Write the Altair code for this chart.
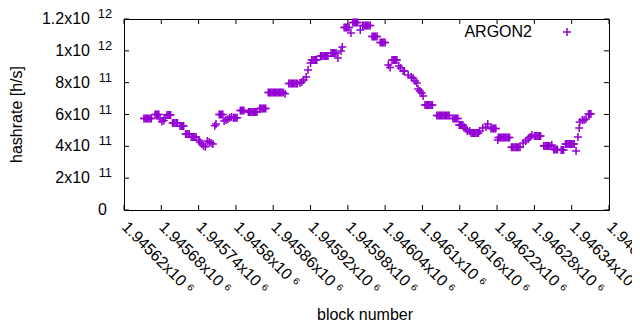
import altair as alt
import pandas as pd

# ---- data ----
blocks = [
    1945652, 1945654, 1945656, 1945658, 1945660, 1945662, 1945664,
    1945670, 1945672, 1945674, 1945676,
    1945678, 1945681, 1945684, 1945686,
    1945689, 1945691, 1945693, 1945695,
    1945698, 1945700, 1945702, 1945704, 1945706,
    1945710, 1945712, 1945714, 1945716,
    1945719, 1945721, 1945723, 1945725,
    1945728, 1945730, 1945732, 1945734, 1945736,
    1945740, 1945742, 1945745, 1945748, 1945751,
    1945754, 1945757, 1945760, 1945763,
    1945766, 1945768,
    1945773, 1945775, 1945777, 1945779,
    1945781, 1945784, 1945787, 1945790, 1945793,
    1945796, 1945798, 1945800, 1945802,
    1945807, 1945809, 1945811, 1945813,
    1945820, 1945822, 1945824, 1945826, 1945828, 1945830, 1945832, 1945834,
    1945838, 1945840, 1945842, 1945844, 1945846, 1945848,
    1945852, 1945854, 1945856, 1945858, 1945860, 1945862, 1945864, 1945866, 1945868, 1945870, 1945872, 1945874, 1945876, 1945879,
    1945885, 1945887, 1945889, 1945891, 1945893, 1945895, 1945897, 1945899,
    1945903, 1945906, 1945909, 1945913, 1945916,
    1945920, 1945922, 1945924, 1945926, 1945928, 1945930,
    1945936, 1945938, 1945940, 1945942, 1945944, 1945946, 1945948,
    1945953, 1945955, 1945957, 1945959, 1945961,
    1945964, 1945969, 1945971,
    1945974, 1945976, 1945978, 1945980, 1945982,
    1945985,
    1945988, 1945990, 1945992, 1945994, 1945996,
    1946000,
    1946004, 1946006, 1946008, 1946010, 1946012, 1946014, 1946016,
    1946019, 1946021, 1946023, 1946025, 1946027,
    1946032, 1946034, 1946036, 1946038, 1946040,
    1946045, 1946048,
    1946051, 1946053, 1946055, 1946057, 1946059,
    1946062, 1946065,
    1946069, 1946071,
    1946077, 1946082, 1946085, 1946088, 1946091, 1946093, 1946096, 1946099, 1946101,
    1946104, 1946106, 1946108, 1946110, 1946112, 1946114, 1946116,
    1946123, 1946125, 1946127, 1946129, 1946131, 1946133, 1946135, 1946137, 1946139, 1946141, 1946143,
    1946149, 1946151, 1946153, 1946155, 1946157,
    1946159, 1946161, 1946163, 1946165,
    1946167, 1946170, 1946172, 1946176,
    1946178, 1946180, 1946182, 1946184, 1946186, 1946188, 1946190,
    1946192, 1946197, 1946202, 1946205,
    1946210, 1946212, 1946214, 1946216, 1946218,
    1946221,
    1946222, 1946224, 1946226, 1946228, 1946230, 1946232, 1946234, 1946236, 1946238, 1946240,
    1946243, 1946245, 1946247, 1946249, 1946251, 1946253, 1946255, 1946257,
    1946262, 1946266, 1946270, 1946273, 1946276,
    1946280, 1946282, 1946284, 1946286, 1946288, 1946290,
    1946295, 1946297, 1946299, 1946301, 1946303, 1946305,
    1946308,
    1946311, 1946313, 1946315, 1946317,
    1946323, 1946325, 1946327,
    1946330, 1946332, 1946334, 1946336, 1946338, 1946340, 1946342, 1946344,
    1946347, 1946350, 1946352, 1946353, 1946357, 1946360, 1946363,
    1946367, 1946369, 1946371,
]

hashrate = [
    5.75e11, 5.75e11, 5.75e11, 5.75e11, 5.75e11, 5.75e11, 5.75e11,
    6.00e11, 6.00e11, 6.00e11, 6.00e11,
    5.72e11, 5.56e11, 5.62e11, 5.80e11,
    5.97e11, 5.97e11, 5.97e11, 5.97e11,
    5.47e11, 5.47e11, 5.47e11, 5.47e11, 5.47e11,
    5.28e11, 5.28e11, 5.28e11, 5.28e11,
    4.77e11, 4.77e11, 4.77e11, 4.77e11,
    4.59e11, 4.59e11, 4.59e11, 4.59e11, 4.59e11,
    4.40e11, 4.27e11, 4.15e11, 4.02e11, 3.98e11,
    4.34e11, 4.27e11, 4.21e11, 4.15e11,
    5.30e11, 5.40e11,
    6.00e11, 6.00e11, 6.00e11, 6.00e11,
    5.59e11, 5.65e11, 5.70e11, 5.80e11, 5.84e11,
    5.80e11, 5.80e11, 5.80e11, 5.80e11,
    6.25e11, 6.25e11, 6.25e11, 6.25e11,
    6.16e11, 6.16e11, 6.16e11, 6.16e11, 6.16e11, 6.16e11, 6.16e11, 6.16e11,
    6.38e11, 6.38e11, 6.38e11, 6.38e11, 6.38e11, 6.38e11,
    7.38e11, 7.38e11, 7.38e11, 7.38e11, 7.38e11, 7.38e11, 7.38e11, 7.38e11, 7.38e11, 7.38e11, 7.38e11, 7.38e11, 7.38e11, 7.30e11,
    7.95e11, 7.95e11, 7.95e11, 7.95e11, 7.95e11, 7.95e11, 7.95e11, 7.95e11,
    7.98e11, 8.04e11, 8.17e11, 8.36e11, 8.80e11,
    9.24e11, 9.42e11, 9.42e11, 9.42e11, 9.42e11, 9.42e11,
    9.68e11, 9.68e11, 9.68e11, 9.68e11, 9.68e11, 9.68e11, 9.68e11,
    9.86e11, 9.86e11, 9.86e11, 9.86e11, 9.86e11,
    9.55e11, 9.99e11, 10.24e11,
    11.47e11, 11.47e11, 11.47e11, 11.47e11, 11.47e11,
    11.12e11,
    11.78e11, 11.78e11, 11.78e11, 11.78e11, 11.78e11,
    11.31e11,
    11.59e11, 11.59e11, 11.59e11, 11.59e11, 11.59e11, 11.59e11, 11.59e11,
    10.90e11, 10.90e11, 10.90e11, 10.90e11, 10.90e11,
    10.52e11, 10.52e11, 10.52e11, 10.52e11, 10.52e11,
    9.11e11, 8.95e11,
    9.42e11, 9.42e11, 9.42e11, 9.42e11, 9.42e11,
    9.05e11, 8.92e11,
    8.73e11, 8.73e11,
    8.48e11, 8.36e11, 8.29e11, 8.10e11, 7.98e11, 7.60e11, 7.48e11, 7.35e11, 7.16e11,
    6.60e11, 6.60e11, 6.60e11, 6.60e11, 6.60e11, 6.60e11, 6.60e11,
    5.94e11, 5.94e11, 5.94e11, 5.94e11, 5.94e11, 5.94e11, 5.94e11, 5.94e11, 5.94e11, 5.94e11, 5.94e11,
    5.75e11, 5.75e11, 5.75e11, 5.75e11, 5.75e11,
    5.34e11, 5.34e11, 5.34e11, 5.34e11,
    5.21e11, 5.09e11, 4.96e11, 4.96e11,
    4.84e11, 4.84e11, 4.84e11, 4.84e11, 4.84e11, 4.84e11, 4.84e11,
    4.96e11, 5.15e11, 5.21e11, 5.40e11,
    5.12e11, 5.12e11, 5.12e11, 5.12e11, 5.12e11,
    4.40e11,
    4.55e11, 4.55e11, 4.55e11, 4.55e11, 4.55e11, 4.55e11, 4.55e11, 4.55e11, 4.55e11, 4.55e11,
    3.95e11, 3.95e11, 3.95e11, 3.95e11, 3.95e11, 3.95e11, 3.95e11, 3.95e11,
    4.21e11, 4.34e11, 4.46e11, 4.59e11, 4.71e11,
    4.65e11, 4.65e11, 4.65e11, 4.65e11, 4.65e11, 4.65e11,
    4.02e11, 4.02e11, 4.02e11, 4.02e11, 4.02e11, 4.02e11,
    4.08e11,
    3.80e11, 3.80e11, 3.80e11, 3.80e11,
    3.77e11, 3.77e11, 3.77e11,
    4.15e11, 4.15e11, 4.15e11, 4.15e11, 4.15e11, 4.15e11, 4.15e11, 4.15e11,
    3.71e11, 4.59e11, 5.15e11, 5.53e11, 5.65e11, 5.65e11, 5.72e11,
    6.03e11, 6.03e11, 6.03e11,
]

x_ticks = [1945620, 1945680, 1945740, 1945800, 1945860, 1945920, 1945980,
           1946040, 1946100, 1946160, 1946220, 1946280, 1946340, 1946400]
y_ticks = [0, 2e11, 4e11, 6e11, 8e11, 1e12, 1.2e12]
y_mantissa = ["0", "2x10", "4x10", "6x10", "8x10", "1x10", "1.2x10"]
y_exponent = ["", "11", "11", "11", "11", "12", "12"]
series_name = "ARGON2"
x_title = "block number"
y_title = "hashrate [h/s]"

# ---- chart ----
W, H = 485, 191
FONT = "Liberation Sans"
COLOR = "#9400D3"
PLUS = "M-1,0L1,0M0,-1L0,1"

df = pd.DataFrame({"block": blocks, "hashrate": hashrate})
ydf = pd.DataFrame({"value": y_ticks, "mantissa": y_mantissa, "exponent": y_exponent})
xdf = pd.DataFrame({"value": x_ticks})

xs = alt.Scale(domain=[x_ticks[0], x_ticks[-1]], nice=False, zero=False)
ys = alt.Scale(domain=[y_ticks[0], y_ticks[-1]], nice=False, zero=False)

x_axis = alt.Axis(
    values=x_ticks,
    labelExpr="format(datum.value/1e6, '.5~f') + 'x10 \u2076'",
    labelAngle=45, labelAlign="left", labelBaseline="middle",
    labelPadding=14, ticks=False, tickSize=0, domain=False, grid=False,
    title=None, labelFontSize=16, labelFont=FONT, labelColor="black",
    labelOverlap=False, labelBound=False, labelFlush=False)

points = alt.Chart(df).mark_point(
    shape=PLUS, filled=False, color=COLOR, strokeWidth=1.5, size=64, opacity=1
).encode(
    x=alt.X("block:Q", scale=xs, axis=x_axis),
    y=alt.Y("hashrate:Q", scale=ys, axis=None),
)

tick_style = dict(color="black", strokeWidth=1)
xt_bottom = alt.Chart(xdf).mark_rule(**tick_style).encode(
    x=alt.X("value:Q", scale=xs, axis=x_axis), y=alt.value(H), y2=alt.value(H - 5))
xt_top = alt.Chart(xdf).mark_rule(**tick_style).encode(
    x=alt.X("value:Q", scale=xs, axis=x_axis), y=alt.value(0), y2=alt.value(5))
yt_left = alt.Chart(ydf).mark_rule(**tick_style).encode(
    y=alt.Y("value:Q", scale=ys, axis=None), x=alt.value(0), x2=alt.value(5))
yt_right = alt.Chart(ydf).mark_rule(**tick_style).encode(
    y=alt.Y("value:Q", scale=ys, axis=None), x=alt.value(W), x2=alt.value(W - 5))

y_mant = alt.Chart(ydf).transform_filter("datum.value > 0").mark_text(
    align="right", baseline="middle", font=FONT, fontSize=16, color="black"
).encode(y=alt.Y("value:Q", scale=ys, axis=None), x=alt.value(-34), text="mantissa:N")
y_zero = alt.Chart(ydf).transform_filter("datum.value == 0").mark_text(
    align="right", baseline="middle", font=FONT, fontSize=16, color="black"
).encode(y=alt.Y("value:Q", scale=ys, axis=None), x=alt.value(-17), text="mantissa:N")
y_exp = alt.Chart(ydf).transform_filter("datum.value > 0").mark_text(
    align="right", baseline="middle", font=FONT, fontSize=12.8, color="black", dy=-5
).encode(y=alt.Y("value:Q", scale=ys, axis=None), x=alt.value(-12), text="exponent:N")

ytitle = alt.Chart(pd.DataFrame({"t": [y_title]})).mark_text(
    angle=270, align="center", baseline="middle", font=FONT, fontSize=16, color="black"
).encode(x=alt.value(-107), y=alt.value(H / 2), text="t:N")
xtitle = alt.Chart(pd.DataFrame({"t": [x_title]})).mark_text(
    align="center", baseline="middle", font=FONT, fontSize=16, color="black"
).encode(x=alt.value(241), y=alt.value(296), text="t:N")

leg_df = pd.DataFrame({"name": [series_name]})
leg_text = alt.Chart(leg_df).mark_text(
    align="right", baseline="middle", font=FONT, fontSize=16, color="black"
).encode(x=alt.value(408), y=alt.value(13), text="name:N")
leg_sym = alt.Chart(leg_df).mark_point(
    shape=PLUS, filled=False, color=COLOR, strokeWidth=1.5, size=64, opacity=1
).encode(x=alt.value(443), y=alt.value(13))

chart = alt.layer(
    points, xt_bottom, xt_top, yt_left, yt_right,
    y_mant, y_zero, y_exp, ytitle, xtitle, leg_text, leg_sym
).properties(
    width=W, height=H,
    padding={"left": 116, "top": 11, "right": 23, "bottom": 111},
    autosize=alt.AutoSizeParams(type="none"),
    background="white",
).configure_view(stroke="black", strokeWidth=1)

chart.save("out.html", embed_options={"renderer": "svg", "actions": False})
